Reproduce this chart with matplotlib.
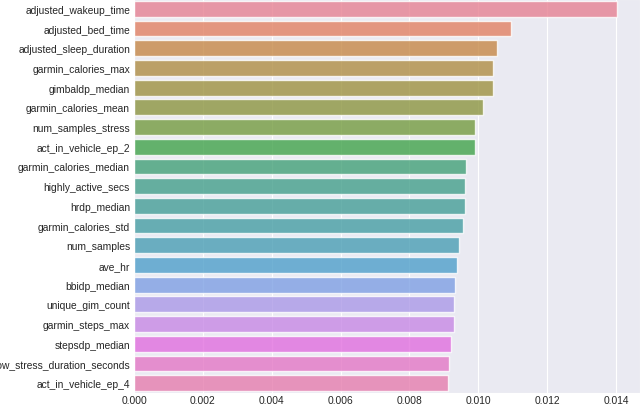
import matplotlib
matplotlib.use("Agg")
import matplotlib.pyplot as plt
import seaborn as sns

features = [
    "adjusted_wakeup_time", "adjusted_bed_time", "adjusted_sleep_duration",
    "garmin_calories_max", "gimbaldp_median", "garmin_calories_mean",
    "num_samples_stress", "act_in_vehicle_ep_2", "garmin_calories_median",
    "highly_active_secs", "hrdp_median", "garmin_calories_std",
    "num_samples", "ave_hr", "bbidp_median", "unique_gim_count",
    "garmin_steps_max", "stepsdp_median", "low_stress_duration_seconds",
    "act_in_vehicle_ep_4",
]
importance = [
    0.01402, 0.01095, 0.01056, 0.01044, 0.01042, 0.01013,
    0.00991, 0.00990, 0.00964, 0.00962, 0.00961, 0.00956,
    0.00943, 0.00937, 0.00934, 0.00929, 0.00929, 0.00922,
    0.00914, 0.00911,
]

sns.set_style("darkgrid")
plt.rcParams["font.family"] = ["Liberation Sans", "DejaVu Sans"]

fig = plt.figure(figsize=(6.4, 4.06), dpi=100)
ax = fig.add_axes([134 / 640, 12 / 406, 506 / 640, 394 / 406])

# husl colours, desaturated like old seaborn bars, a bit see-through
colors = sns.color_palette("husl", len(features), desat=0.75)
sns.barplot(x=importance, y=features, hue=features, palette=colors,
            saturation=1, alpha=0.8, legend=False, ax=ax)

ax.set_xlim(0, 0.0147)
ax.set_xticks([0, 0.002, 0.004, 0.006, 0.008, 0.010, 0.012, 0.014])
ax.set_xticklabels(["0.000", "0.002", "0.004", "0.006", "0.008",
                    "0.010", "0.012", "0.014"])
ax.tick_params(axis="both", labelsize=7.4, length=0, colors="#262626")
ax.tick_params(axis="x", pad=1.4)
ax.tick_params(axis="y", pad=2.8)
ax.set_xlabel("")
ax.set_ylabel("")

fig.savefig("out.png", dpi=100)
